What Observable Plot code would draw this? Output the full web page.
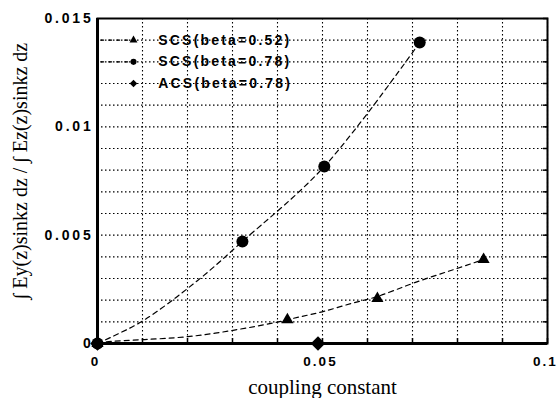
<!DOCTYPE html>
<html><head><meta charset="utf-8">
<script src="https://cdn.jsdelivr.net/npm/d3@7"></script>
<script src="https://cdn.jsdelivr.net/npm/@observablehq/plot@0.6"></script>
<style>
body{margin:0;background:#fff}
g[aria-label="y-axis tick label"] text{letter-spacing:2.8px}
g[aria-label="x-axis tick label"] text{letter-spacing:2px}
.leg text{letter-spacing:2.2px}
</style></head><body><div id="c"></div>
<script>
// measured points
const scs52X = [0, 0.0422, 0.0622, 0.0858];
const scs52Y = [0, 0.0011, 0.00208, 0.00388];
const scs78X = [0, 0.0322, 0.0504, 0.0716];
const scs78Y = [0, 0.00471, 0.00817, 0.01389];
const acs78X = [0, 0.049];
const acs78Y = [0, 0];
// dashed fit curves
const fit52X = [0, 0.0022, 0.0102, 0.020, 0.0302, 0.040, 0.0451, 0.0502, 0.0569, 0.0622, 0.0702, 0.080, 0.0858];
const fit52Y = [0, 0.0001, 0.00018, 0.00028, 0.0006, 0.00097, 0.00125, 0.00145, 0.0019, 0.00212, 0.00282, 0.00346, 0.00388];
const fit78X = [0, 0.0029, 0.0102, 0.0222, 0.0322, 0.0504, 0.0716];
const fit78Y = [0, 0.00028, 0.00106, 0.0029, 0.00471, 0.00817, 0.01389];
const legendLabels = ["SCS(beta=0.52)", "SCS(beta=0.78)", "ACS(beta=0.78)"];
const legendSymbols = ["triangle", "circle", "diamond2"];
const legendHasLine = [true, true, false];
const xTickLabels = [0, 0.05, 0.1];
const yTickLabels = [0, 0.005, 0.01, 0.015];
const xGrid = d3.range(0, 0.1001, 0.01);
const yGrid = d3.range(0, 0.01501, 0.001);
const xTitle = "coupling constant";
const yTitle = "\u222B Ey(z)sinkz dz / \u222B Ez(z)sinkz dz";

const pts = (xs, ys) => xs.map((x, i) => ({x, y: ys[i]}));
// legend layout (rows at grid levels)
const legY = [0.014, 0.013, 0.012];
const legend = legendLabels.map((t, i) => ({t, s: legendSymbols[i], line: legendHasLine[i], y: legY[i]}));
const symR = s => s === "circle" ? 4.8 : s === "diamond2" ? 6 : 4.5;

const bold = "Liberation Sans, Arial, sans-serif";
const serif = "Liberation Serif, Times New Roman, serif";

const chart = Plot.plot({
  width: 557, height: 398,
  marginLeft: 97, marginRight: 10, marginTop: 18, marginBottom: 55,
  x: {domain: [0, 0.1]},
  y: {domain: [0, 0.015]},
  style: {background: "#fff", color: "#000"},
  marks: [
    Plot.ruleX(xGrid, {stroke: "#000", strokeWidth: 1.1, strokeDasharray: "1.5,2.5"}),
    Plot.ruleY(yGrid, {stroke: "#000", strokeWidth: 1.1, strokeDasharray: "1.5,2.5"}),
    Plot.axisX({ticks: xGrid, tickSize: -5, tickFormat: () => "", strokeWidth: 1.5, label: null}),
    Plot.axisY({anchor: "right", ticks: yGrid, tickSize: -5, tickFormat: () => "", strokeWidth: 1.5, label: null}),
    Plot.axisX({ticks: xTickLabels, tickSize: 0, tickPadding: 13, dx: -2, tickFormat: d => String(d), fontSize: 13.5, fontWeight: "bold", fontFamily: bold, label: null}),
    Plot.axisY({ticks: yTickLabels, tickSize: 0, tickPadding: 4, tickFormat: d => String(d), fontSize: 14, fontWeight: "bold", fontFamily: bold, label: null}),
    Plot.frame({stroke: "#000", strokeWidth: 2}),
    Plot.ruleX([0], {stroke: "#000", strokeWidth: 3}),
    Plot.ruleY([0], {stroke: "#000", strokeWidth: 3}),
    Plot.line(pts(fit78X, fit78Y), {x: "x", y: "y", curve: "catmull-rom", stroke: "#000", strokeWidth: 1.2, strokeDasharray: "5,4"}),
    Plot.line(pts(fit52X, fit52Y), {x: "x", y: "y", curve: "basis", stroke: "#000", strokeWidth: 1.2, strokeDasharray: "5,4"}),
    Plot.dot(pts(scs52X, scs52Y), {x: "x", y: "y", symbol: "triangle", r: 4.5, fill: "#000"}),
    Plot.dot(pts(acs78X, acs78Y), {x: "x", y: "y", symbol: "diamond2", r: 6.5, fill: "#000"}),
    Plot.dot(pts(scs78X, scs78Y), {x: "x", y: "y", symbol: "circle", r: 6, fill: "#000"}),
    // legend
    Plot.ruleY(legend.filter(d => d.line), {y: "y", x1: 0.0007, x2: 0.0072, stroke: "#000", strokeWidth: 1.2, strokeDasharray: "4,4"}),
    Plot.dot(legend, {x: 0.008, y: "y", symbol: "s", r: d => symR(d.s), fill: "#000"}),
    Plot.text(legend, {x: 0.0135, y: "y", text: "t", textAnchor: "start", fontSize: 14, fontWeight: "bold", fontFamily: bold, className: "leg"}),
    // titles
    Plot.text([xTitle], {frameAnchor: "bottom", dy: 50, lineAnchor: "bottom", fontSize: 21, fontFamily: serif}),
    Plot.text([yTitle], {frameAnchor: "left", textAnchor: "middle", dx: -77, dy: -10, rotate: -90, lineAnchor: "middle", fontSize: 20, fontFamily: serif})
  ]
});
document.getElementById("c").appendChild(chart);
</script></body></html>
